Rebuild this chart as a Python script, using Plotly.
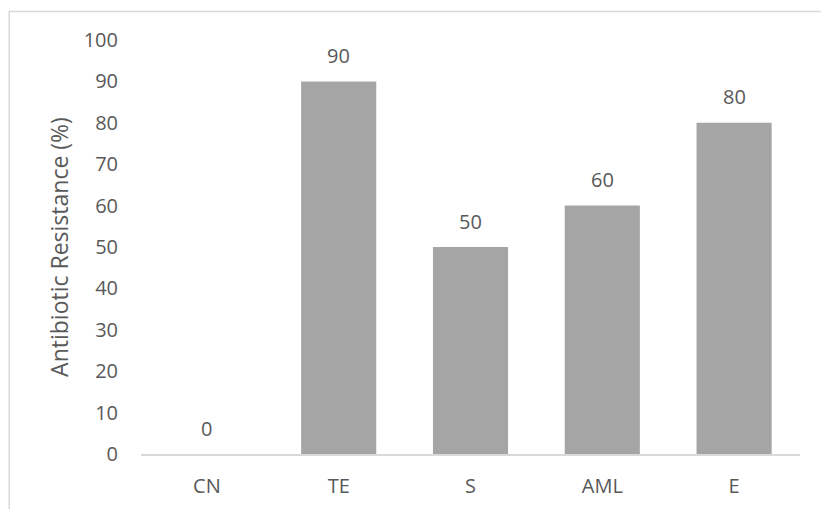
import plotly.graph_objects as go

categories = ["CN", "TE", "S", "AML", "E"]
values = [0, 90, 50, 60, 80]
y_ticks = [0, 10, 20, 30, 40, 50, 60, 70, 80, 90, 100]

font = dict(family="Open Sans", size=20, color="#595959")

fig = go.Figure(go.Bar(x=categories, y=values, marker=dict(color="#A5A5A5", line=dict(width=0)),
                       width=0.57))

for c, v in zip(categories, values):
    fig.add_annotation(x=c, y=v, text=str(v), showarrow=False, yanchor="middle",
                       yshift=26, font=font)

fig.add_shape(type="rect", xref="paper", yref="paper", x0=-0.2, y0=-0.5, x1=1.5, y1=1.0689,
              line=dict(color="#D9D9D9", width=1.5), layer="below")

fig.update_layout(
    width=821, height=509,
    margin=dict(l=141, r=21, t=40, b=55),
    paper_bgcolor="white", plot_bgcolor="white",
    font=font, showlegend=False, bargap=0.43,
    xaxis=dict(showline=True, linecolor="#D9D9D9", linewidth=1.5, ticks="", showgrid=False,
               tickfont=font, ticklabelstandoff=13, automargin=False),
    yaxis=dict(range=[0, 100], tickvals=y_ticks, showgrid=False, showline=False, zeroline=False,
               tickfont=font, ticklabelstandoff=22, automargin=False,
               title=dict(text="Antibiotic Resistance (%)", font=dict(family="Open Sans", size=23, color="#595959"), standoff=8)),
)

fig.write_html("out.html")
